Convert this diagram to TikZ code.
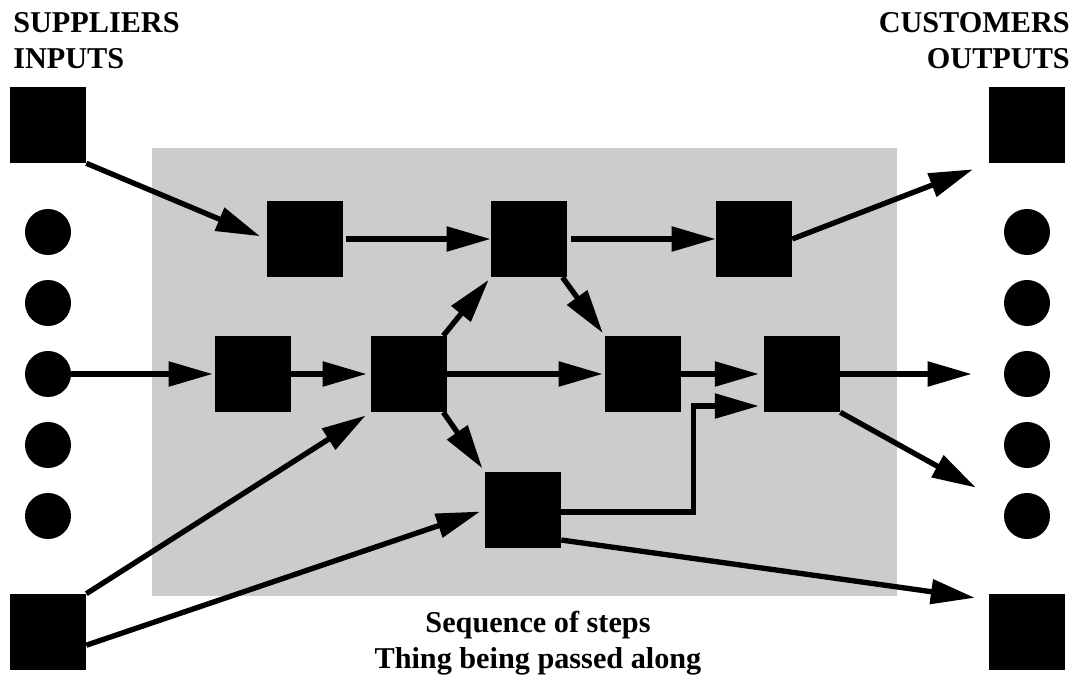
\documentclass[tikz,border=0pt]{standalone}
\usepackage{fontspec}
\setmainfont{Liberation Serif}
\usepackage{tikz}
\usetikzlibrary{arrows.meta}
\definecolor{panel}{gray}{0.8}
\tikzstyle{box} = [fill=black, minimum size=1.9cm, inner sep=0pt]
\tikzstyle{dot} = [circle, fill=black, minimum size=1.15cm, inner sep=0pt]
\tikzstyle{arrow} = [line width=3.8pt, -{Triangle[length=1.1cm, width=0.6cm]}]
\tikzstyle{title} = [font=\bfseries\fontsize{21.5}{25.6}\selectfont, inner sep=0pt]

\begin{document}
\begin{tikzpicture}[x=0.025cm, y=-0.025cm]
        \useasboundingbox (0,0) rectangle (1077,682);
        \fill[panel] (152,148) rectangle (897,596);

        % Suppliers / inputs
        \node[box] (sin1) at (48,125) {};
        \node[dot] (sin2) at (48,232) {};
        \node[dot] (sin3) at (48,303) {};
        \node[dot] (sin4) at (48,374) {};
        \node[dot] (sin5) at (48,445) {};
        \node[dot] (sin6) at (48,516) {};
        \node[box] (sin7) at (48,632) {};

        % Customers / outputs
        \node[box] (cout1) at (1027,125) {};
        \node[dot] (cout2) at (1027,232) {};
        \node[dot] (cout3) at (1027,303) {};
        \node[dot] (cout4) at (1027,374) {};
        \node[dot] (cout5) at (1027,445) {};
        \node[dot] (cout6) at (1027,516) {};
        \node[box] (cout7) at (1027,632) {};

        % Steps
        \node[box] (s1) at (305,239) {};
        \node[box] (s2) at (529,239) {};
        \node[box] (s3) at (754,239) {};
        \node[box] (s4) at (253,374) {};
        \node[box] (s5) at (409,374) {};
        \node[box] (s6) at (643,374) {};
        \node[box] (s7) at (802,374) {};
        \node[box] (s8) at (523,510) {};
        \coordinate (s7in) at ([yshift=-0.8cm]s7.west);

        % Draw Arrows
        \draw[arrow, shorten >=0.18cm] (sin1.south east) -- (s1.west);
        \draw[arrow, shorten <=0.08cm] (s1) -- (s2);
        \draw[arrow, shorten <=0.1cm] (s2) -- (s3);
        \draw[arrow, shorten >=0.42cm] (s3.east) -- (cout1.south west);
        \draw[arrow, shorten >=0.05cm] (sin4) -- (s4);
        \draw[arrow, shorten >=0.1cm] (s4) -- (s5);
        \draw[arrow, shorten >=0.08cm] ([xshift=-0.1cm]s5.north east) -- (s2.south west);
        \draw[arrow, shorten >=0.05cm] (s5) -- (s6);
        \draw[arrow, shorten >=0.08cm] ([xshift=-0.12cm]s2.south east) -- (s6.north west);
        \draw[arrow, shorten >=0.1cm] ([xshift=-0.1cm]s5.south east) -- (s8.north west);
        \draw[arrow, shorten >=0.12cm] (s6) -- (s7);
        \draw[arrow, shorten >=0.12cm] ([yshift=-0.05cm]s8.east) -| ([xshift=-1.75cm]s7in) -- (s7in);
        \draw[arrow, shorten >=0.8cm] (s7) -- (cout4);
        \draw[arrow, shorten >=0.88cm] (s7.south east) -- (cout6);
        \draw[arrow, shorten >=0.35cm] ([yshift=-0.75cm]s8.east) -- ([yshift=-0.15cm]cout7.north west);
        \draw[arrow, shorten >=0.15cm] (sin7.north east) -- (s5.south west);
        \draw[arrow, shorten >=0.12cm] ([yshift=-0.33cm]sin7.east) -- (s8.west);

        % Texts
        \node[title, anchor=north west, align=left] (supp) at (13,12) {SUPPLIERS\\INPUTS};
        \node[title, anchor=north east, align=right] (cust) at (1070,12) {CUSTOMERS\\OUTPUTS};
        \node[title, anchor=north, align=center] (steps) at (538,611) {Sequence of steps\\Thing being passed along};

\end{tikzpicture}
\end{document}
